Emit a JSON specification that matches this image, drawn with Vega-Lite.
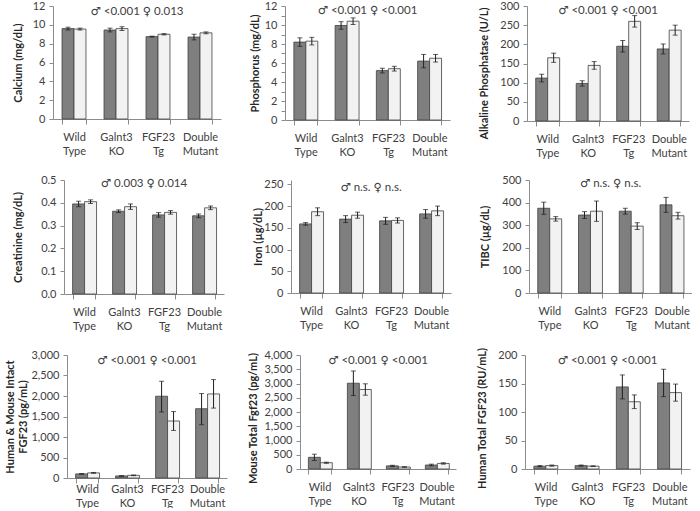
{
"$schema": "https://vega.github.io/schema/vega-lite/v6.json",
"padding": {"left": 3, "top": 0, "right": 0, "bottom": 0},
"datasets": {
"ca": [
{"g":"Wild Type","s":"M","v":9.6,"lo":9.45,"hi":9.75},{"g":"Wild Type","s":"F","v":9.55,"lo":9.45,"hi":9.65},
{"g":"Galnt3 KO","s":"M","v":9.45,"lo":9.25,"hi":9.65},{"g":"Galnt3 KO","s":"F","v":9.6,"lo":9.4,"hi":9.8},
{"g":"FGF23 Tg","s":"M","v":8.75,"lo":8.7,"hi":8.8},{"g":"FGF23 Tg","s":"F","v":9.0,"lo":8.93,"hi":9.07},
{"g":"Double Mutant","s":"M","v":8.7,"lo":8.4,"hi":9.0},{"g":"Double Mutant","s":"F","v":9.15,"lo":9.05,"hi":9.25}],
"p": [
{"g":"Wild Type","s":"M","v":8.2,"lo":7.75,"hi":8.65},{"g":"Wild Type","s":"F","v":8.3,"lo":7.9,"hi":8.7},
{"g":"Galnt3 KO","s":"M","v":9.95,"lo":9.55,"hi":10.35},{"g":"Galnt3 KO","s":"F","v":10.4,"lo":10.05,"hi":10.75},
{"g":"FGF23 Tg","s":"M","v":5.2,"lo":4.95,"hi":5.45},{"g":"FGF23 Tg","s":"F","v":5.4,"lo":5.15,"hi":5.65},
{"g":"Double Mutant","s":"M","v":6.2,"lo":5.5,"hi":6.9},{"g":"Double Mutant","s":"F","v":6.5,"lo":6.1,"hi":6.9}],
"alp": [
{"g":"Wild Type","s":"M","v":112,"lo":102,"hi":122},{"g":"Wild Type","s":"F","v":165,"lo":153,"hi":177},
{"g":"Galnt3 KO","s":"M","v":98,"lo":91,"hi":105},{"g":"Galnt3 KO","s":"F","v":145,"lo":135,"hi":155},
{"g":"FGF23 Tg","s":"M","v":195,"lo":180,"hi":210},{"g":"FGF23 Tg","s":"F","v":260,"lo":245,"hi":275},
{"g":"Double Mutant","s":"M","v":188,"lo":175,"hi":201},{"g":"Double Mutant","s":"F","v":237,"lo":224,"hi":250}],
"cr": [
{"g":"Wild Type","s":"M","v":0.395,"lo":0.383,"hi":0.407},{"g":"Wild Type","s":"F","v":0.405,"lo":0.397,"hi":0.413},
{"g":"Galnt3 KO","s":"M","v":0.363,"lo":0.357,"hi":0.369},{"g":"Galnt3 KO","s":"F","v":0.383,"lo":0.371,"hi":0.395},
{"g":"FGF23 Tg","s":"M","v":0.347,"lo":0.337,"hi":0.357},{"g":"FGF23 Tg","s":"F","v":0.358,"lo":0.35,"hi":0.366},
{"g":"Double Mutant","s":"M","v":0.343,"lo":0.335,"hi":0.351},{"g":"Double Mutant","s":"F","v":0.378,"lo":0.37,"hi":0.386}],
"fe": [
{"g":"Wild Type","s":"M","v":159,"lo":156,"hi":162},{"g":"Wild Type","s":"F","v":187,"lo":178,"hi":196},
{"g":"Galnt3 KO","s":"M","v":170,"lo":162,"hi":178},{"g":"Galnt3 KO","s":"F","v":179,"lo":172,"hi":186},
{"g":"FGF23 Tg","s":"M","v":166,"lo":158,"hi":174},{"g":"FGF23 Tg","s":"F","v":167,"lo":161,"hi":173},
{"g":"Double Mutant","s":"M","v":182,"lo":172,"hi":192},{"g":"Double Mutant","s":"F","v":189,"lo":178,"hi":200}],
"tibc": [
{"g":"Wild Type","s":"M","v":375,"lo":348,"hi":402},{"g":"Wild Type","s":"F","v":328,"lo":318,"hi":338},
{"g":"Galnt3 KO","s":"M","v":345,"lo":330,"hi":360},{"g":"Galnt3 KO","s":"F","v":362,"lo":317,"hi":407},
{"g":"FGF23 Tg","s":"M","v":362,"lo":349,"hi":375},{"g":"FGF23 Tg","s":"F","v":296,"lo":281,"hi":311},
{"g":"Double Mutant","s":"M","v":390,"lo":357,"hi":423},{"g":"Double Mutant","s":"F","v":342,"lo":327,"hi":357}],
"int": [
{"g":"Wild Type","s":"M","v":100,"lo":90,"hi":110},{"g":"Wild Type","s":"F","v":125,"lo":115,"hi":135},
{"g":"Galnt3 KO","s":"M","v":50,"lo":42,"hi":58},{"g":"Galnt3 KO","s":"F","v":65,"lo":57,"hi":73},
{"g":"FGF23 Tg","s":"M","v":1995,"lo":1610,"hi":2360},{"g":"FGF23 Tg","s":"F","v":1390,"lo":1160,"hi":1620},
{"g":"Double Mutant","s":"M","v":1690,"lo":1300,"hi":2060},{"g":"Double Mutant","s":"F","v":2050,"lo":1705,"hi":2400}],
"mo": [
{"g":"Wild Type","s":"M","v":410,"lo":300,"hi":520},{"g":"Wild Type","s":"F","v":220,"lo":200,"hi":240},
{"g":"Galnt3 KO","s":"M","v":3010,"lo":2580,"hi":3440},{"g":"Galnt3 KO","s":"F","v":2790,"lo":2590,"hi":2990},
{"g":"FGF23 Tg","s":"M","v":110,"lo":90,"hi":130},{"g":"FGF23 Tg","s":"F","v":70,"lo":60,"hi":80},
{"g":"Double Mutant","s":"M","v":140,"lo":110,"hi":170},{"g":"Double Mutant","s":"F","v":195,"lo":170,"hi":220}],
"hu": [
{"g":"Wild Type","s":"M","v":5,"lo":4,"hi":6},{"g":"Wild Type","s":"F","v":6,"lo":5,"hi":7},
{"g":"Galnt3 KO","s":"M","v":6,"lo":5,"hi":7},{"g":"Galnt3 KO","s":"F","v":5,"lo":4.5,"hi":5.5},
{"g":"FGF23 Tg","s":"M","v":144,"lo":123,"hi":165},{"g":"FGF23 Tg","s":"F","v":118,"lo":106,"hi":130},
{"g":"Double Mutant","s":"M","v":151,"lo":127,"hi":175},{"g":"Double Mutant","s":"F","v":134,"lo":119,"hi":149}]
},
"vconcat": [
{"spacing": 0, "hconcat": [
{"width": 9, "height": 1, "data": {"values": []}, "mark": "point"},
{"spacing": 28, "hconcat": [
{"width": 168, "height": 113, "data": {"name": "ca"}, "layer": [
 {"encoding": {"x": {"field": "g", "type": "nominal", "sort": null, "title": null, "scale": {"paddingInner": 0.43, "paddingOuter": 0.215}}, "xOffset": {"field": "s", "type": "nominal", "sort": ["M","F"]}},
  "layer": [
  {"mark": {"type": "bar", "stroke": "#404040", "strokeWidth": 0.8}, "encoding": {"y": {"field": "v", "type": "quantitative", "title": "Calcium (mg/dL)", "scale": {"domain": [0, 12]}, "axis": {"values": [0,2,4,6,8,10,12], "titlePadding": 9}}, "fill": {"field": "s", "type": "nominal", "scale": {"domain": ["M","F"], "range": ["#7f7f7f","#f2f2f2"]}, "legend": null}}},
  {"mark": {"type": "rule", "color": "#1f1f1f", "strokeWidth": 1}, "encoding": {"y": {"field": "lo", "type": "quantitative", "title": "Calcium (mg/dL)", "axis": {"values": [0,2,4,6,8,10,12], "titlePadding": 9}}, "y2": {"field": "hi"}}},
  {"mark": {"type": "tick", "color": "#1f1f1f", "size": 5, "thickness": 1}, "encoding": {"y": {"field": "lo", "type": "quantitative", "title": "Calcium (mg/dL)", "axis": {"values": [0,2,4,6,8,10,12], "titlePadding": 9}}}},
  {"mark": {"type": "tick", "color": "#1f1f1f", "size": 5, "thickness": 1}, "encoding": {"y": {"field": "hi", "type": "quantitative", "title": "Calcium (mg/dL)", "axis": {"values": [0,2,4,6,8,10,12], "titlePadding": 9}}}}
 ]},
 {"data": {"values": [{"t": "♂ <0.001  ♀ 0.013"}]}, "mark": {"type": "text"}, "encoding": {"y": {"datum": 11.4, "type": "quantitative", "title": "Calcium (mg/dL)", "axis": {"values": [0,2,4,6,8,10,12], "titlePadding": 9}}, "text": {"field": "t"}}}
]},
{"width": 165, "height": 114, "data": {"name": "p"}, "layer": [
 {"encoding": {"x": {"field": "g", "type": "nominal", "sort": null, "title": null, "scale": {"paddingInner": 0.43, "paddingOuter": 0.215}}, "xOffset": {"field": "s", "type": "nominal", "sort": ["M","F"]}},
  "layer": [
  {"mark": {"type": "bar", "stroke": "#404040", "strokeWidth": 0.8}, "encoding": {"y": {"field": "v", "type": "quantitative", "title": "Phosphorus (mg/dL)", "scale": {"domain": [0, 12]}, "axis": {"values": [0,1,2,3,4,5,6,7,8,9,10,11,12], "titlePadding": 4}}, "fill": {"field": "s", "type": "nominal", "scale": {"domain": ["M","F"], "range": ["#7f7f7f","#f2f2f2"]}, "legend": null}}},
  {"mark": {"type": "rule", "color": "#1f1f1f", "strokeWidth": 1}, "encoding": {"y": {"field": "lo", "type": "quantitative", "title": "Phosphorus (mg/dL)", "axis": {"values": [0,1,2,3,4,5,6,7,8,9,10,11,12], "titlePadding": 4}}, "y2": {"field": "hi"}}},
  {"mark": {"type": "tick", "color": "#1f1f1f", "size": 5, "thickness": 1}, "encoding": {"y": {"field": "lo", "type": "quantitative", "title": "Phosphorus (mg/dL)", "axis": {"values": [0,1,2,3,4,5,6,7,8,9,10,11,12], "titlePadding": 4}}}},
  {"mark": {"type": "tick", "color": "#1f1f1f", "size": 5, "thickness": 1}, "encoding": {"y": {"field": "hi", "type": "quantitative", "title": "Phosphorus (mg/dL)", "axis": {"values": [0,1,2,3,4,5,6,7,8,9,10,11,12], "titlePadding": 4}}}}
 ]},
 {"data": {"values": [{"t": "♂  <0.001  ♀  <0.001"}]}, "mark": {"type": "text"}, "encoding": {"y": {"datum": 11.45, "type": "quantitative", "title": "Phosphorus (mg/dL)", "axis": {"values": [0,1,2,3,4,5,6,7,8,9,10,11,12], "titlePadding": 4}}, "text": {"field": "t"}}}
]},
{"width": 162, "height": 115, "data": {"name": "alp"}, "layer": [
 {"encoding": {"x": {"field": "g", "type": "nominal", "sort": null, "title": null, "scale": {"paddingInner": 0.43, "paddingOuter": 0.215}}, "xOffset": {"field": "s", "type": "nominal", "sort": ["M","F"]}},
  "layer": [
  {"mark": {"type": "bar", "stroke": "#404040", "strokeWidth": 0.8}, "encoding": {"y": {"field": "v", "type": "quantitative", "title": "Alkaline Phosphatase (U/L)", "scale": {"domain": [0, 300]}, "axis": {"values": [0,50,100,150,200,250,300], "titlePadding": 10, "titleY": 67}}, "fill": {"field": "s", "type": "nominal", "scale": {"domain": ["M","F"], "range": ["#7f7f7f","#f2f2f2"]}, "legend": null}}},
  {"mark": {"type": "rule", "color": "#1f1f1f", "strokeWidth": 1}, "encoding": {"y": {"field": "lo", "type": "quantitative", "title": "Alkaline Phosphatase (U/L)", "axis": {"values": [0,50,100,150,200,250,300], "titlePadding": 10, "titleY": 67}}, "y2": {"field": "hi"}}},
  {"mark": {"type": "tick", "color": "#1f1f1f", "size": 5, "thickness": 1}, "encoding": {"y": {"field": "lo", "type": "quantitative", "title": "Alkaline Phosphatase (U/L)", "axis": {"values": [0,50,100,150,200,250,300], "titlePadding": 10, "titleY": 67}}}},
  {"mark": {"type": "tick", "color": "#1f1f1f", "size": 5, "thickness": 1}, "encoding": {"y": {"field": "hi", "type": "quantitative", "title": "Alkaline Phosphatase (U/L)", "axis": {"values": [0,50,100,150,200,250,300], "titlePadding": 10, "titleY": 67}}}}
 ]},
 {"data": {"values": [{"t": "♂ <0.001  ♀ <0.001"}]}, "mark": {"type": "text"}, "encoding": {"y": {"datum": 287, "type": "quantitative", "title": "Alkaline Phosphatase (U/L)", "axis": {"values": [0,50,100,150,200,250,300], "titlePadding": 10, "titleY": 67}}, "text": {"field": "t"}}}
]}
]}]},
{"spacing": 0, "hconcat": [
{"width": 9, "height": 1, "data": {"values": []}, "mark": "point"},
{"spacing": 28, "hconcat": [
{"width": 160, "height": 114, "data": {"name": "cr"}, "layer": [
 {"encoding": {"x": {"field": "g", "type": "nominal", "sort": null, "title": null, "scale": {"paddingInner": 0.43, "paddingOuter": 0.215}}, "xOffset": {"field": "s", "type": "nominal", "sort": ["M","F"]}},
  "layer": [
  {"mark": {"type": "bar", "stroke": "#404040", "strokeWidth": 0.8}, "encoding": {"y": {"field": "v", "type": "quantitative", "title": "Creatinine (mg/dL)", "scale": {"domain": [0, 0.5]}, "axis": {"values": [0,0.1,0.2,0.3,0.4,0.5], "format": ".1f", "titlePadding": 17}}, "fill": {"field": "s", "type": "nominal", "scale": {"domain": ["M","F"], "range": ["#7f7f7f","#f2f2f2"]}, "legend": null}}},
  {"mark": {"type": "rule", "color": "#1f1f1f", "strokeWidth": 1}, "encoding": {"y": {"field": "lo", "type": "quantitative", "title": "Creatinine (mg/dL)", "axis": {"values": [0,0.1,0.2,0.3,0.4,0.5], "format": ".1f", "titlePadding": 17}}, "y2": {"field": "hi"}}},
  {"mark": {"type": "tick", "color": "#1f1f1f", "size": 5, "thickness": 1}, "encoding": {"y": {"field": "lo", "type": "quantitative", "title": "Creatinine (mg/dL)", "axis": {"values": [0,0.1,0.2,0.3,0.4,0.5], "format": ".1f", "titlePadding": 17}}}},
  {"mark": {"type": "tick", "color": "#1f1f1f", "size": 5, "thickness": 1}, "encoding": {"y": {"field": "hi", "type": "quantitative", "title": "Creatinine (mg/dL)", "axis": {"values": [0,0.1,0.2,0.3,0.4,0.5], "format": ".1f", "titlePadding": 17}}}}
 ]},
 {"data": {"values": [{"t": "♂  0.003  ♀ 0.014"}]}, "mark": {"type": "text"}, "encoding": {"y": {"datum": 0.482, "type": "quantitative", "title": "Creatinine (mg/dL)", "axis": {"values": [0,0.1,0.2,0.3,0.4,0.5], "format": ".1f", "titlePadding": 17}}, "text": {"field": "t"}}}
]},
{"width": 160, "height": 113, "data": {"name": "fe"}, "layer": [
 {"encoding": {"x": {"field": "g", "type": "nominal", "sort": null, "title": null, "scale": {"paddingInner": 0.43, "paddingOuter": 0.215}}, "xOffset": {"field": "s", "type": "nominal", "sort": ["M","F"]}},
  "layer": [
  {"mark": {"type": "bar", "stroke": "#404040", "strokeWidth": 0.8}, "encoding": {"y": {"field": "v", "type": "quantitative", "title": "Iron (µg/dL)", "scale": {"domain": [0, 250]}, "axis": {"values": [0,50,100,150,200,250], "titlePadding": 0}}, "fill": {"field": "s", "type": "nominal", "scale": {"domain": ["M","F"], "range": ["#7f7f7f","#f2f2f2"]}, "legend": null}}},
  {"mark": {"type": "rule", "color": "#1f1f1f", "strokeWidth": 1}, "encoding": {"y": {"field": "lo", "type": "quantitative", "title": "Iron (µg/dL)", "axis": {"values": [0,50,100,150,200,250], "titlePadding": 0}}, "y2": {"field": "hi"}}},
  {"mark": {"type": "tick", "color": "#1f1f1f", "size": 5, "thickness": 1}, "encoding": {"y": {"field": "lo", "type": "quantitative", "title": "Iron (µg/dL)", "axis": {"values": [0,50,100,150,200,250], "titlePadding": 0}}}},
  {"mark": {"type": "tick", "color": "#1f1f1f", "size": 5, "thickness": 1}, "encoding": {"y": {"field": "hi", "type": "quantitative", "title": "Iron (µg/dL)", "axis": {"values": [0,50,100,150,200,250], "titlePadding": 0}}}}
 ]},
 {"data": {"values": [{"t": "♂  n.s.  ♀  n.s."}]}, "mark": {"type": "text"}, "encoding": {"y": {"datum": 242, "type": "quantitative", "title": "Iron (µg/dL)", "axis": {"values": [0,50,100,150,200,250], "titlePadding": 0}}, "text": {"field": "t"}}}
]},
{"width": 163, "height": 113, "data": {"name": "tibc"}, "layer": [
 {"encoding": {"x": {"field": "g", "type": "nominal", "sort": null, "title": null, "scale": {"paddingInner": 0.43, "paddingOuter": 0.215}}, "xOffset": {"field": "s", "type": "nominal", "sort": ["M","F"]}},
  "layer": [
  {"mark": {"type": "bar", "stroke": "#404040", "strokeWidth": 0.8}, "encoding": {"y": {"field": "v", "type": "quantitative", "title": "TIBC (µg/dL)", "scale": {"domain": [0, 500]}, "axis": {"values": [0,100,200,300,400,500], "titlePadding": 11}}, "fill": {"field": "s", "type": "nominal", "scale": {"domain": ["M","F"], "range": ["#7f7f7f","#f2f2f2"]}, "legend": null}}},
  {"mark": {"type": "rule", "color": "#1f1f1f", "strokeWidth": 1}, "encoding": {"y": {"field": "lo", "type": "quantitative", "title": "TIBC (µg/dL)", "axis": {"values": [0,100,200,300,400,500], "titlePadding": 11}}, "y2": {"field": "hi"}}},
  {"mark": {"type": "tick", "color": "#1f1f1f", "size": 5, "thickness": 1}, "encoding": {"y": {"field": "lo", "type": "quantitative", "title": "TIBC (µg/dL)", "axis": {"values": [0,100,200,300,400,500], "titlePadding": 11}}}},
  {"mark": {"type": "tick", "color": "#1f1f1f", "size": 5, "thickness": 1}, "encoding": {"y": {"field": "hi", "type": "quantitative", "title": "TIBC (µg/dL)", "axis": {"values": [0,100,200,300,400,500], "titlePadding": 11}}}}
 ]},
 {"data": {"values": [{"t": "♂  n.s.  ♀  n.s."}]}, "mark": {"type": "text"}, "encoding": {"y": {"datum": 484, "type": "quantitative", "title": "TIBC (µg/dL)", "axis": {"values": [0,100,200,300,400,500], "titlePadding": 11}}, "text": {"field": "t"}}}
]}
]}]},
{"spacing": 0, "hconcat": [
{"width": 1, "height": 1, "data": {"values": []}, "mark": "point"},
{"spacing": 20, "hconcat": [
{"width": 160, "height": 123, "data": {"name": "int"}, "layer": [
 {"encoding": {"x": {"field": "g", "type": "nominal", "sort": null, "title": null, "scale": {"paddingInner": 0.43, "paddingOuter": 0.215}, "axis": {"labelPadding": 0}}, "xOffset": {"field": "s", "type": "nominal", "sort": ["M","F"]}},
  "layer": [
  {"mark": {"type": "bar", "stroke": "#404040", "strokeWidth": 0.8}, "encoding": {"y": {"field": "v", "type": "quantitative", "title": ["Human & Mouse Intact", "FGF23 (pg/mL)"], "scale": {"domain": [0, 3000]}, "axis": {"values": [0,500,1000,1500,2000,2500,3000], "format": ",.0f", "titlePadding": 2, "titleLineHeight": 13}}, "fill": {"field": "s", "type": "nominal", "scale": {"domain": ["M","F"], "range": ["#7f7f7f","#f2f2f2"]}, "legend": null}}},
  {"mark": {"type": "rule", "color": "#1f1f1f", "strokeWidth": 1}, "encoding": {"y": {"field": "lo", "type": "quantitative", "title": ["Human & Mouse Intact", "FGF23 (pg/mL)"], "axis": {"values": [0,500,1000,1500,2000,2500,3000], "format": ",.0f", "titlePadding": 2, "titleLineHeight": 13}}, "y2": {"field": "hi"}}},
  {"mark": {"type": "tick", "color": "#1f1f1f", "size": 5, "thickness": 1}, "encoding": {"y": {"field": "lo", "type": "quantitative", "title": ["Human & Mouse Intact", "FGF23 (pg/mL)"], "axis": {"values": [0,500,1000,1500,2000,2500,3000], "format": ",.0f", "titlePadding": 2, "titleLineHeight": 13}}}},
  {"mark": {"type": "tick", "color": "#1f1f1f", "size": 5, "thickness": 1}, "encoding": {"y": {"field": "hi", "type": "quantitative", "title": ["Human & Mouse Intact", "FGF23 (pg/mL)"], "axis": {"values": [0,500,1000,1500,2000,2500,3000], "format": ",.0f", "titlePadding": 2, "titleLineHeight": 13}}}}
 ]},
 {"data": {"values": [{"t": "♂  <0.001  ♀ <0.001"}]}, "mark": {"type": "text"}, "encoding": {"y": {"datum": 2860, "type": "quantitative", "title": ["Human & Mouse Intact", "FGF23 (pg/mL)"], "axis": {"values": [0,500,1000,1500,2000,2500,3000], "format": ",.0f", "titlePadding": 2, "titleLineHeight": 13}}, "text": {"field": "t"}}}
]},
{"width": 156, "height": 114, "data": {"name": "mo"}, "layer": [
 {"encoding": {"x": {"field": "g", "type": "nominal", "sort": null, "title": null, "scale": {"paddingInner": 0.43, "paddingOuter": 0.215}}, "xOffset": {"field": "s", "type": "nominal", "sort": ["M","F"]}},
  "layer": [
  {"mark": {"type": "bar", "stroke": "#404040", "strokeWidth": 0.8}, "encoding": {"y": {"field": "v", "type": "quantitative", "title": "Mouse Total Fgf23 (pg/mL)", "scale": {"domain": [0, 4000]}, "axis": {"values": [0,500,1000,1500,2000,2500,3000,3500,4000], "format": ",.0f", "titlePadding": 5, "titleY": 63}}, "fill": {"field": "s", "type": "nominal", "scale": {"domain": ["M","F"], "range": ["#7f7f7f","#f2f2f2"]}, "legend": null}}},
  {"mark": {"type": "rule", "color": "#1f1f1f", "strokeWidth": 1}, "encoding": {"y": {"field": "lo", "type": "quantitative", "title": "Mouse Total Fgf23 (pg/mL)", "axis": {"values": [0,500,1000,1500,2000,2500,3000,3500,4000], "format": ",.0f", "titlePadding": 5, "titleY": 63}}, "y2": {"field": "hi"}}},
  {"mark": {"type": "tick", "color": "#1f1f1f", "size": 5, "thickness": 1}, "encoding": {"y": {"field": "lo", "type": "quantitative", "title": "Mouse Total Fgf23 (pg/mL)", "axis": {"values": [0,500,1000,1500,2000,2500,3000,3500,4000], "format": ",.0f", "titlePadding": 5, "titleY": 63}}}},
  {"mark": {"type": "tick", "color": "#1f1f1f", "size": 5, "thickness": 1}, "encoding": {"y": {"field": "hi", "type": "quantitative", "title": "Mouse Total Fgf23 (pg/mL)", "axis": {"values": [0,500,1000,1500,2000,2500,3000,3500,4000], "format": ",.0f", "titlePadding": 5, "titleY": 63}}}}
 ]},
 {"data": {"values": [{"t": "♂  <0.001  ♀ <0.001"}]}, "mark": {"type": "text"}, "encoding": {"y": {"datum": 3800, "type": "quantitative", "title": "Mouse Total Fgf23 (pg/mL)", "axis": {"values": [0,500,1000,1500,2000,2500,3000,3500,4000], "format": ",.0f", "titlePadding": 5, "titleY": 63}}, "text": {"field": "t"}}}
]},
{"width": 165, "height": 114, "data": {"name": "hu"}, "layer": [
 {"encoding": {"x": {"field": "g", "type": "nominal", "sort": null, "title": null, "scale": {"paddingInner": 0.43, "paddingOuter": 0.215}}, "xOffset": {"field": "s", "type": "nominal", "sort": ["M","F"]}},
  "layer": [
  {"mark": {"type": "bar", "stroke": "#404040", "strokeWidth": 0.8}, "encoding": {"y": {"field": "v", "type": "quantitative", "title": "Human Total FGF23 (RU/mL)", "scale": {"domain": [0, 200]}, "axis": {"values": [0,50,100,150,200], "titlePadding": 10, "titleY": 63}}, "fill": {"field": "s", "type": "nominal", "scale": {"domain": ["M","F"], "range": ["#7f7f7f","#f2f2f2"]}, "legend": null}}},
  {"mark": {"type": "rule", "color": "#1f1f1f", "strokeWidth": 1}, "encoding": {"y": {"field": "lo", "type": "quantitative", "title": "Human Total FGF23 (RU/mL)", "axis": {"values": [0,50,100,150,200], "titlePadding": 10, "titleY": 63}}, "y2": {"field": "hi"}}},
  {"mark": {"type": "tick", "color": "#1f1f1f", "size": 5, "thickness": 1}, "encoding": {"y": {"field": "lo", "type": "quantitative", "title": "Human Total FGF23 (RU/mL)", "axis": {"values": [0,50,100,150,200], "titlePadding": 10, "titleY": 63}}}},
  {"mark": {"type": "tick", "color": "#1f1f1f", "size": 5, "thickness": 1}, "encoding": {"y": {"field": "hi", "type": "quantitative", "title": "Human Total FGF23 (RU/mL)", "axis": {"values": [0,50,100,150,200], "titlePadding": 10, "titleY": 63}}}}
 ]},
 {"data": {"values": [{"t": "♂  <0.001  ♀ <0.001"}]}, "mark": {"type": "text"}, "encoding": {"y": {"datum": 190, "type": "quantitative", "title": "Human Total FGF23 (RU/mL)", "axis": {"values": [0,50,100,150,200], "titlePadding": 10, "titleY": 63}}, "text": {"field": "t"}}}
]}
]}]}
],
"spacing": 16,
"config": {
 "font": "Lato",
 "view": {"stroke": null},
 "text": {"font": "Lato, DejaVu Sans", "fontSize": 11.5, "color": "#404040", "baseline": "middle"},
 "axis": {"labelFont": "Lato", "labelFontSize": 11, "labelColor": "#404040", "titleFont": "Lato", "titleFontSize": 11, "titleColor": "#262626", "titleFontWeight": "bold", "domainColor": "#8c8c8c", "tickColor": "#8c8c8c", "grid": false, "tickSize": 4},
 "axisX": {"tickBand": "extent", "labelAngle": 0, "labelExpr": "split(datum.label, ' ')", "labelPadding": 7, "labelLineHeight": 14, "tickSize": 5},
 "axisY": {"labelPadding": 4}
}
}
